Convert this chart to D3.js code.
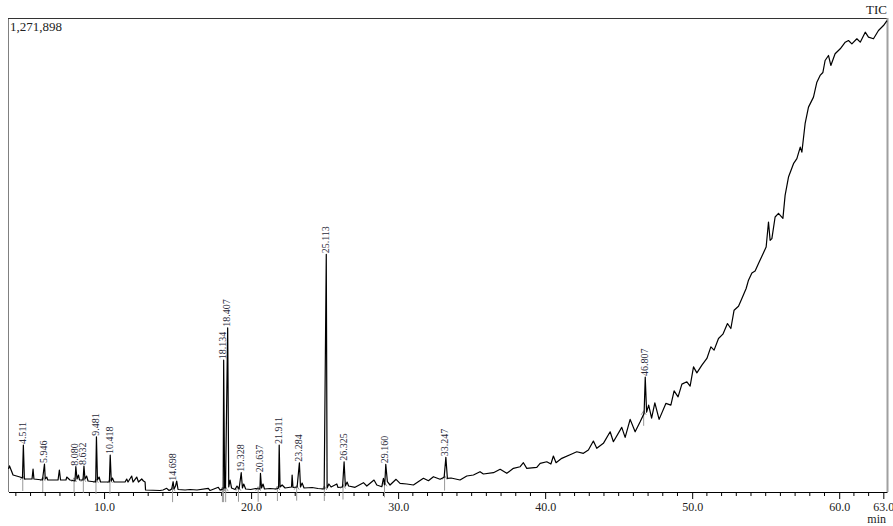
<!DOCTYPE html>
<html>
<head>
<meta charset="utf-8">
<script src="https://cdn.jsdelivr.net/npm/d3@7"></script>
<style>
  html, body { margin: 0; padding: 0; background: #fff; }
  svg { display: block; }
  text { font-family: "Liberation Serif", "Times New Roman", serif; }
</style>
</head>
<body>
<svg id="chart" width="893" height="526"></svg>
<script>
// retention time (min), intensity — baseline
const traceA = [[3.50,62000],[3.57,70000],[3.81,45600],[4.28,40200],[4.45,37600],[4.58,34900],[4.96,34900],[5.10,34900],[5.17,61700],[5.23,34900],[5.81,32200],[6.00,34900],[6.10,40200],[6.17,32200],[6.87,32200],[6.96,59000],[7.04,32200],[7.41,32200],[7.46,40200],[7.68,32200],[8.02,29500],[8.16,34900],[8.26,45600],[8.33,32200],[8.57,32200],[8.70,34900],[8.81,42900],[8.91,29500],[9.43,26800],[9.55,32200],[9.66,40200],[9.76,26800],[10.36,26800],[10.49,29500],[10.57,37600],[10.68,26800],[11.43,26800],[11.54,34900],[11.63,26800],[11.88,42900],[11.97,26800],[12.22,40200],[12.34,26800],[12.56,34900],[12.68,29500],[12.79,26800],[12.82,5400],[13.81,4000]];
const traceB = [[14.01,5400],[14.26,9900],[14.42,4000],[14.60,8000],[14.76,8000],[14.86,16100],[14.94,29500],[15.03,6700],[15.51,5400],[15.85,6700],[16.32,5400],[17.09,9900],[17.21,4000],[17.77,12600],[17.89,5400],[18.10,8000],[18.20,10700],[18.26,10700],[18.48,13400],[18.57,32200],[18.67,10700],[18.91,6700],[19.04,16100],[19.18,8000],[19.41,10700],[19.50,21500],[19.63,8000],[19.97,6700],[20.31,9400],[20.60,8000],[20.71,10700],[20.81,21500],[20.91,8000],[21.29,9400],[21.70,8000],[21.87,10700],[21.97,13400],[22.11,18800],[22.31,10700],[22.75,13400],[22.79,45600],[22.85,12100],[23.13,13400],[23.36,13400],[23.47,24100],[23.60,10700],[24.15,12100],[24.55,9400],[24.97,8000],[25.17,10700],[25.29,21500],[25.44,13400],[25.83,21500],[25.91,12100],[26.22,13400],[26.41,16100],[26.53,26800],[26.63,16100]];
const traceC = [[27.07,12600],[27.64,25000],[27.87,16100],[28.36,32200],[28.55,18800],[28.89,14200],[29.00,36800],[29.09,18800],[29.27,27600],[29.45,18800],[29.86,34100],[30.13,23300],[30.59,21500],[31.04,18800],[31.72,36800],[32.06,30300],[32.40,41100],[32.85,34100],[33.13,39400],[33.35,36800],[33.60,37600],[34.21,32200],[34.67,42900],[35.12,45600],[35.57,54500],[35.80,48300],[36.48,51800],[36.94,60900],[37.39,50200],[37.84,63600],[38.30,67900],[38.52,78600],[38.75,63600],[39.43,66300],[39.66,77000],[40.11,81300],[40.39,75100],[40.56,96600],[40.74,78600],[41.13,90400],[41.81,102000],[42.15,108100],[42.60,103800],[42.94,112700],[43.28,136800],[43.51,117300],[43.96,130700],[44.42,161800],[44.64,135000],[45.21,173600],[45.44,146800],[45.78,195100],[46.12,161800],[46.46,188600],[46.73,211200],[46.90,214600],[47.04,233400],[47.24,198600]];
const traceD = [[47.46,239600],[47.75,195100],[48.21,238000],[48.55,233400],[48.77,271800],[49.04,255700],[49.30,289800],[49.64,296000],[49.86,284400],[50.09,336200],[50.32,320100],[50.66,340800],[51.00,358700],[51.27,389900],[51.49,381000],[51.79,412400],[52.09,423900],[52.40,452600],[52.63,439200],[52.85,488300],[53.15,499000],[53.38,519700],[53.67,546600],[53.83,568900],[54.06,588400],[54.28,593800],[54.51,613600],[54.74,633200],[55.03,658200],[55.19,725300],[55.30,676100],[55.42,680700],[55.64,738700],[55.87,748600],[56.17,735100],[56.32,796900],[56.55,846000],[56.89,881900],[57.12,895400],[57.35,926500],[57.46,913100],[57.68,989300],[57.91,1033800],[58.25,1060700],[58.48,1100900],[58.70,1118900],[58.89,1126900],[59.04,1159100],[59.27,1172600],[59.43,1145700],[59.72,1177100],[60.07,1190500],[60.41,1208300],[60.63,1212800],[60.86,1203900],[61.20,1217400],[61.43,1208300],[61.77,1235100],[61.99,1221700],[62.33,1217400],[62.67,1239600],[63.01,1253000],[63.25,1266000]];

// labelled peaks
const peakTimes = [4.511,5.946,8.080,8.632,9.481,10.418,14.698,18.134,18.407,19.328,20.637,21.911,23.284,25.113,26.325,29.160,33.247,46.807];
const peakHeights = [126100,75100,67900,69800,148400,99300,27600,354200,440900,51800,50200,126100,78600,638600,81300,74300,93100,308600];

// integration marks (time, baseline intensity)
const markerTimes = [4.47,5.83,7.96,8.59,9.45,10.40,14.66,18.05,18.13,18.27,19.14,20.48,21.79,23.10,24.98,26.25,29.07,33.16,46.70];
const markerBase = [35000,32000,30000,30000,27000,27000,5000,5000,5000,5000,6000,6000,8000,9000,8000,12000,18000,36000,210000];

const majorTicks = [10, 20, 30, 40, 50, 60, 63];
const yMax = 1271898;

const svg = d3.select("#chart");
const x = d3.scaleLinear().domain([3.5, 63.25]).range([8.5, 887]);
const y = d3.scaleLinear().domain([0, yMax]).range([492, 18.5]);

// frame
svg.append("line").attr("x1", 8.5).attr("x2", 8.5).attr("y1", 18).attr("y2", 492)
    .attr("stroke", "#808080").attr("stroke-width", 1);
svg.append("line").attr("x1", 8).attr("x2", 888).attr("y1", 18.5).attr("y2", 18.5)
    .attr("stroke", "#333").attr("stroke-width", 1);
svg.append("line").attr("x1", 887.5).attr("x2", 887.5).attr("y1", 18).attr("y2", 492)
    .attr("stroke", "#a0a0a0").attr("stroke-width", 2);

// axis
const axis = svg.append("g").attr("transform", "translate(0,492)")
    .call(d3.axisBottom(x).tickValues(majorTicks).tickFormat(d3.format(".1f"))
        .tickSize(7).tickSizeOuter(0));
axis.select(".domain").attr("stroke", "#000");
axis.selectAll(".tick line").attr("stroke", "#000");
axis.selectAll(".tick text").attr("font-size", "12px").attr("fill", "#222")
    .style("font-family", "'Liberation Serif', 'Times New Roman', serif");

const minorTicks = d3.range(4, 64).filter(t => majorTicks.indexOf(t) < 0);
svg.append("g").selectAll("line").data(minorTicks).join("line")
    .attr("x1", d => x(d)).attr("x2", d => x(d))
    .attr("y1", 492).attr("y2", 496)
    .attr("stroke", "#000");

svg.append("text").attr("x", 886).attr("y", 523).attr("text-anchor", "end")
    .attr("font-size", "12px").attr("fill", "#222").text("min");
svg.append("text").attr("x", 887).attr("y", 14).attr("text-anchor", "end")
    .attr("font-size", "13px").attr("fill", "#222").text("TIC");
svg.append("text").attr("x", 10).attr("y", 31)
    .attr("font-size", "13px").attr("fill", "#222").text(d3.format(",")(yMax));

// integration markers
const markers = markerTimes.map((t, i) => ({ t: t, v: markerBase[i] }));
svg.append("g").selectAll("path").data(markers).join("path")
    .attr("d", d => {
        const px = x(d.t), py = y(d.v) - 3;
        return `M${px},${py}L${px},${py + 15}M${px - 2.5},${py + 4}L${px},${py}L${px + 2.5},${py + 4}`;
    })
    .attr("fill", "none").attr("stroke", "#999").attr("stroke-width", 1);

// trace
const peaks = peakTimes.map((t, i) => [t, peakHeights[i]]);
const trace = traceA.concat(traceB, traceC, traceD, peaks).sort((a, b) => a[0] - b[0]);
const line = d3.line().x(d => x(d[0])).y(d => y(d[1]));
svg.append("path").datum(trace)
    .attr("d", line)
    .attr("fill", "none").attr("stroke", "#000").attr("stroke-width", 1.2)
    .attr("stroke-linejoin", "round");

// peak labels
svg.append("g").selectAll("text").data(peaks).join("text")
    .attr("transform", d => `translate(${x(d[0]) - 1},${y(d[1]) - 1}) rotate(-90)`)
    .attr("dy", "0.35em")
    .attr("font-size", "10px").attr("fill", "#2a2a3a")
    .text(d => d3.format(".3f")(d[0]));
</script>
</body>
</html>
